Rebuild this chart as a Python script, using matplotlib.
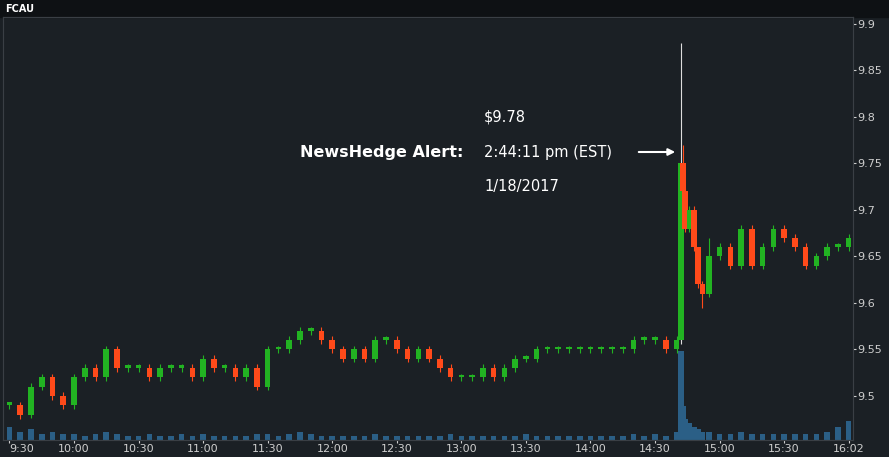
import matplotlib.pyplot as plt
import matplotlib.patches as mpatches

# minutes after 9:30
times = [0, 5, 10, 15, 20, 25, 30, 35, 40, 45, 50, 55, 60, 65, 70, 75, 80, 85, 90, 95,
         100, 105, 110, 115, 120, 125, 130, 135, 140, 145, 150, 155, 160, 165, 170, 175,
         180, 185, 190, 195, 200, 205, 210, 215, 220, 225, 230, 235, 240, 245, 250, 255,
         260, 265, 270, 275, 280, 285, 290, 295, 300, 305, 310,
         312, 313, 314, 316, 318, 320, 322, 325,
         330, 335, 340, 345, 350, 355, 360, 365, 370, 375, 380, 385, 390]
closes = [9.49, 9.48, 9.51, 9.52, 9.50, 9.49, 9.52, 9.53, 9.52, 9.55, 9.53, 9.53, 9.53, 9.52,
          9.53, 9.53, 9.53, 9.52, 9.54, 9.53, 9.53, 9.52, 9.53, 9.51, 9.55, 9.55, 9.56, 9.57,
          9.57, 9.56, 9.55, 9.54, 9.55, 9.54, 9.56, 9.56, 9.55, 9.54, 9.55, 9.54, 9.53, 9.52,
          9.52, 9.52, 9.53, 9.52, 9.53, 9.54, 9.54, 9.55, 9.55, 9.55, 9.55, 9.55, 9.55, 9.55,
          9.55, 9.55, 9.56, 9.56, 9.56, 9.55, 9.56,
          9.75, 9.72, 9.68, 9.70, 9.66, 9.62, 9.61, 9.65,
          9.66, 9.64, 9.68, 9.64, 9.66, 9.68, 9.67, 9.66, 9.64, 9.65, 9.66, 9.66, 9.67]
volumes = [6, 4, 5, 3, 4, 3, 3, 2, 3, 4, 3, 2, 2, 3, 2, 2, 3, 2, 3, 2,
           2, 2, 2, 3, 3, 2, 3, 4, 3, 2, 2, 2, 2, 2, 3, 2, 2, 2, 2, 2,
           2, 3, 2, 2, 2, 2, 2, 2, 3, 2, 2, 2, 2, 2, 2, 2, 2, 2, 3, 2,
           3, 2, 4,
           42, 16, 10, 8, 6, 5, 4, 4,
           3, 3, 4, 3, 3, 3, 3, 3, 3, 3, 4, 6, 9]
special_highs = {312: 9.88, 313: 9.77, 320: 9.64, 325: 9.67}
special_lows = {322: 9.595, 5: 9.475}
xtick_labels = ["9:30", "10:00", "10:30", "11:00", "11:30", "12:00", "12:30", "13:00",
                "13:30", "14:00", "14:30", "15:00", "15:30", "16:02"]
yticks = [9.5, 9.55, 9.6, 9.65, 9.7, 9.75, 9.8, 9.85, 9.9]

bg = "#1b2025"
green = "#22b322"
red = "#ff4a1a"

fig = plt.figure(figsize=(8.89, 4.57), dpi=100, facecolor=bg)
fig.add_artist(mpatches.Rectangle((0, 1 - 17 / 457), 1, 17 / 457, transform=fig.transFigure,
                                  color="#0e1114", zorder=0))
vax = fig.add_axes([3 / 889, 17 / 457, 850 / 889, 423 / 457])
vax.patch.set_visible(False)
ax = fig.add_axes([3 / 889, 17 / 457, 850 / 889, 423 / 457], sharex=vax)
ax.patch.set_visible(False)

w = 2.6
prev = closes[0]
for t, c in zip(times, closes):
    o = prev
    col = green if c >= o else red
    hi = special_highs.get(t, max(o, c) + 0.004)
    lo = special_lows.get(t, min(o, c) - 0.004)
    ax.vlines(t, lo, hi, color="#dddddd" if t == 312 else col, lw=0.8, zorder=3)
    ax.bar(t, max(abs(c - o), 0.003), bottom=min(o, c), width=w, color=col, zorder=4)
    prev = c

vax.bar(times, volumes, width=w, color="#2b5f86")
vax.set_ylim(0, 200)
vax.set_yticks([])
vax.tick_params(bottom=False, labelbottom=False)

ax.set_xlim(-3, 392)
ax.set_ylim(9.4526, 9.9075)
ax.set_xticks([0, 30, 60, 90, 120, 150, 180, 210, 240, 270, 300, 330, 360, 390])
ax.set_xticklabels(xtick_labels)
ax.get_xticklabels()[0].set_ha("left")
ax.yaxis.tick_right()
ax.set_yticks(yticks)
ax.set_yticklabels([f"{v:g}" for v in yticks])
ax.tick_params(colors="#cfcfcf", labelsize=8, length=2, pad=1)
for a in (ax, vax):
    for s in a.spines.values():
        s.set_color("#3a3f45")

fig.text(5 / 889, 1 - 9 / 457, "FCAU", color="white", fontsize=7, fontweight="bold", va="center")
fig.text(484 / 889, 1 - 117 / 457, "$9.78", color="white", fontsize=10.5, va="center")
fig.text(300 / 889, 1 - 152 / 457, "NewsHedge Alert:", color="white", fontsize=11.5,
         fontweight="bold", va="center")
fig.text(484 / 889, 1 - 152 / 457, "2:44:11 pm (EST)", color="white", fontsize=10.5, va="center")
fig.text(484 / 889, 1 - 187 / 457, "1/18/2017", color="white", fontsize=10.5, va="center")
fig.add_artist(plt.Annotation("", xy=(678 / 889, 1 - 152 / 457), xytext=(636 / 889, 1 - 152 / 457),
                              xycoords="figure fraction",
                              arrowprops=dict(arrowstyle="-|>", color="white", lw=1.5)))

fig.savefig("out.png", dpi=100, facecolor=fig.get_facecolor())
